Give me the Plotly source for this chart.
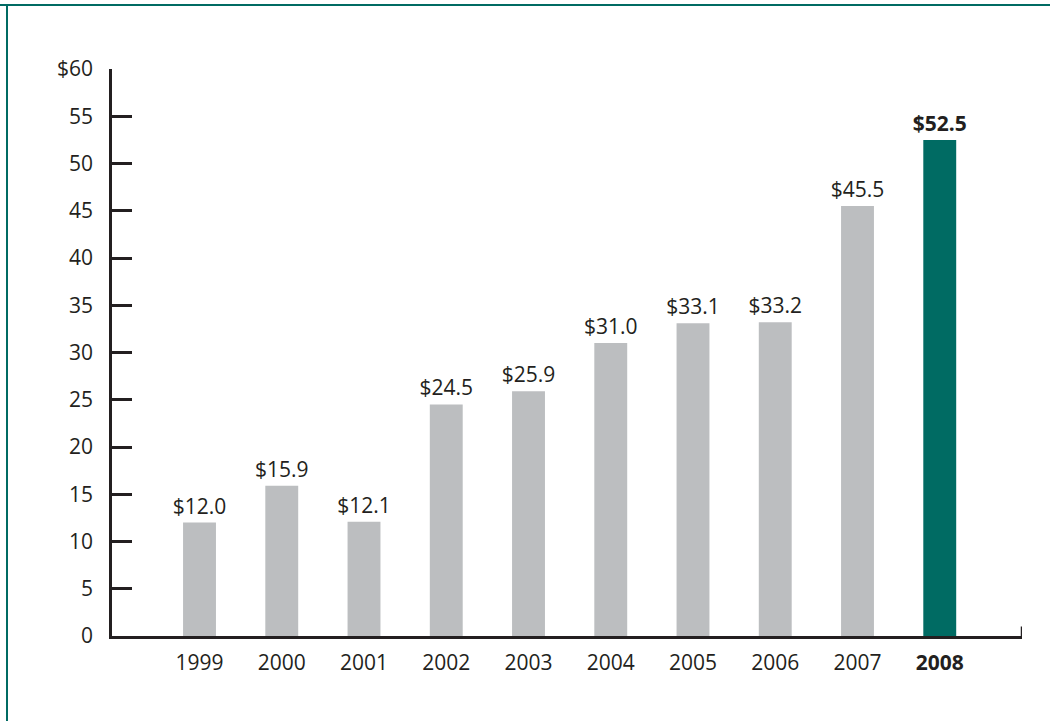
import plotly.graph_objects as go

years = ["1999", "2000", "2001", "2002", "2003", "2004", "2005", "2006", "2007", "2008"]
values = [12.0, 15.9, 12.1, 24.5, 25.9, 31.0, 33.1, 33.2, 45.5, 52.5]
y_ticks = [0, 5, 10, 15, 20, 25, 30, 35, 40, 45, 50, 55, 60]
y_tick_text = ["0", "5", "10", "15", "20", "25", "30", "35", "40", "45", "50", "55", "$60"]

GRAY = "#bcbec0"
TEAL = "#006b63"
INK = "#231f20"
FONT = "Open Sans"
SIZE = 21

xs = list(range(len(years)))
last = len(years) - 1
colors = [TEAL if i == last else GRAY for i in xs]
labels = [f"<b>${v:.1f}</b>" if i == last else f"${v:.1f}" for i, v in enumerate(values)]
x_text = [f"<b>{y}</b>" if i == last else y for i, y in enumerate(years)]

fig = go.Figure(
    go.Bar(
        x=xs,
        y=values,
        width=0.4,
        marker=dict(color=colors, line=dict(width=0)),
        text=labels,
        textposition="outside",
        textangle=0,
        constraintext="none",
        textfont=dict(family=FONT, size=SIZE, color=INK),
        cliponaxis=False,
        hoverinfo="skip",
    )
)

fig.update_layout(
    width=1050,
    height=721,
    margin=dict(l=112, r=28, t=69, b=85),
    paper_bgcolor="white",
    plot_bgcolor="white",
    showlegend=False,
    font=dict(family=FONT, size=SIZE, color=INK),
    xaxis=dict(
        range=[-1.064, 10.0],
        tickvals=xs,
        ticktext=x_text,
        tickfont=dict(family=FONT, size=SIZE, color=INK),
        ticks="",
        showgrid=False,
        zeroline=False,
        showline=True,
        linecolor=INK,
        linewidth=2.5,
        ticklabelstandoff=6,
        fixedrange=True,
    ),
    yaxis=dict(
        range=[0, 60],
        tickvals=y_ticks,
        ticktext=y_tick_text,
        tickfont=dict(family=FONT, size=SIZE, color=INK),
        ticks="inside",
        ticklen=20,
        tickwidth=2.5,
        tickcolor=INK,
        showgrid=False,
        zeroline=False,
        showline=True,
        linecolor=INK,
        linewidth=2.5,
        ticklabelstandoff=12,
        fixedrange=True,
    ),
    shapes=[
        # small upturn at the right end of the category axis
        dict(type="line", xref="x", yref="y", x0=10.0, x1=10.0, y0=0, y1=1.0,
             line=dict(color=INK, width=2.5)),
        # frame: top and left rules
        dict(type="line", xref="paper", yref="paper", x0=-112 / 910, x1=1.0 + 28 / 910,
             y0=1 + 64 / 567, y1=1 + 64 / 567, line=dict(color=TEAL, width=2)),
        dict(type="line", xref="paper", yref="paper", x0=-105 / 910, x1=-105 / 910,
             y0=1 + 64 / 567, y1=-85 / 567, line=dict(color=TEAL, width=2)),
    ],
)

fig.write_html("out.html")
